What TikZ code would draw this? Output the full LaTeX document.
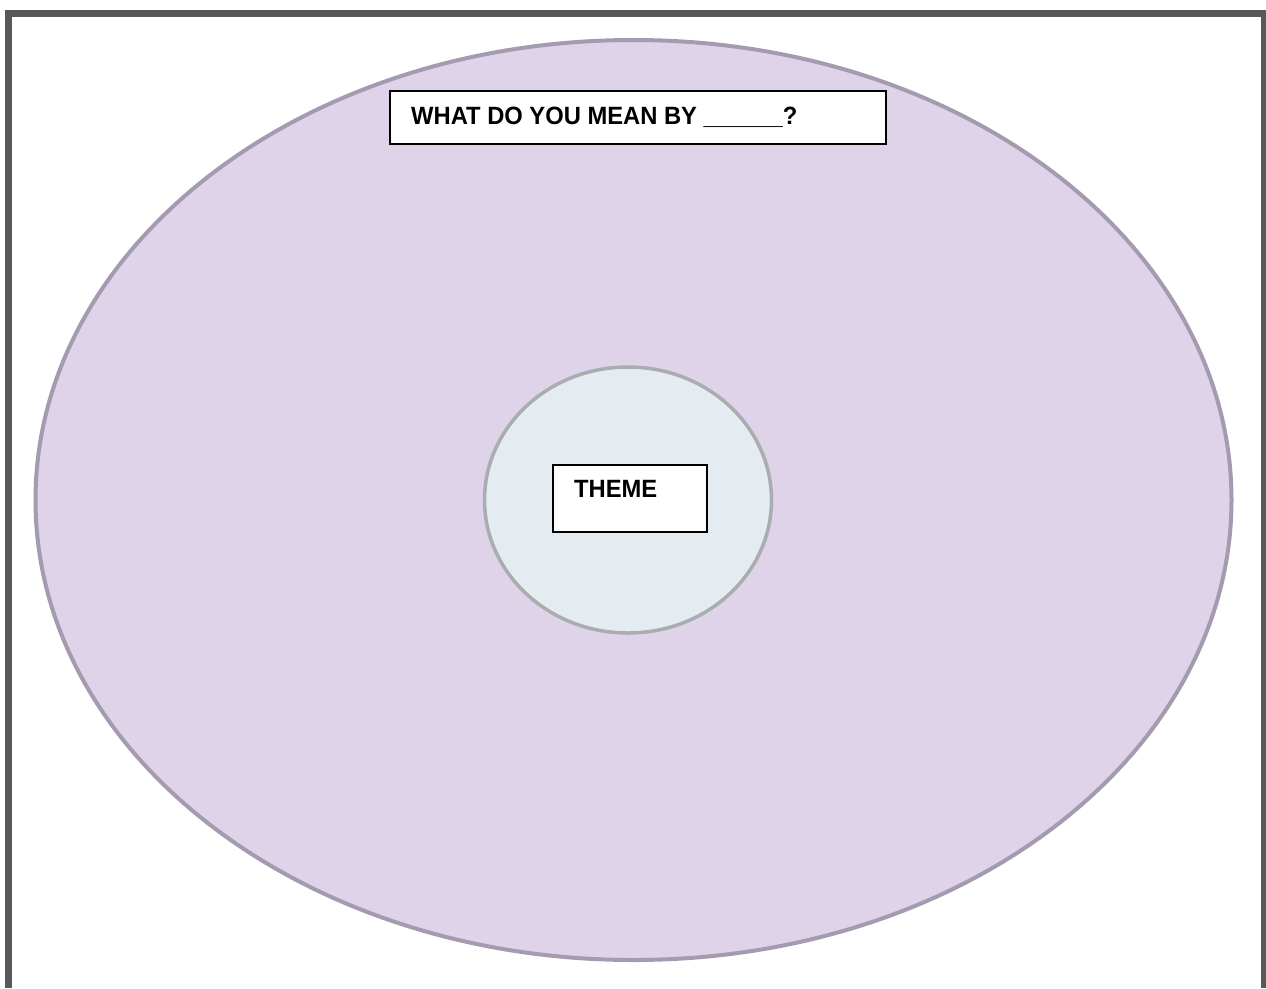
\documentclass[tikz,border=0pt]{standalone}
\usepackage{fontspec}
\setmainfont{Liberation Sans}
\newfontfamily\labelfont[FakeStretch=0.95]{Liberation Sans}
\usetikzlibrary{shapes.geometric}
\definecolor{framec}{HTML}{58585B}
\definecolor{bigfill}{HTML}{DFD3EA}
\definecolor{bigline}{HTML}{A59BB0}
\definecolor{smallfill}{HTML}{E4ECF1}
\definecolor{smallline}{HTML}{A9ADAF}
\tikzset{
  labelbox/.style={draw=black, line width=1.6pt, fill=white},
  labeltext/.style={anchor=base west, inner sep=0pt, font=\labelfont\bfseries\fontsize{25}{29}\selectfont},
}
\begin{document}
\begin{tikzpicture}[x=1pt,y=-1pt]
\useasboundingbox (0,0) rectangle (1266,988);
\fill[white] (0,0) rectangle (1266,988);
% outer frame (open at bottom)
\draw[framec, line width=7pt, line join=miter] (8,988) -- (8,13) -- (1264.5,13) -- (1264.5,988);
% big ellipse
\node[ellipse, draw=bigline, fill=bigfill, line width=4pt, minimum width=1196pt, minimum height=920pt, inner sep=0pt] (outer) at (633.5,500) {};
% inner ellipse
\node[ellipse, draw=smallline, fill=smallfill, line width=3.5pt, minimum width=287pt, minimum height=266pt, inner sep=0pt] (inner) at (628,500) {};
% title box
\draw[labelbox] (390,91) rectangle (886,144);
\node[labeltext] (title) at (411,124.5) {WHAT DO YOU MEAN BY \_\_\_\_\_\_?};
% theme box
\draw[labelbox] (553,465) rectangle (707,532);
\node[labeltext] (theme) at (574,497.5) {THEME};
\end{tikzpicture}
\end{document}
